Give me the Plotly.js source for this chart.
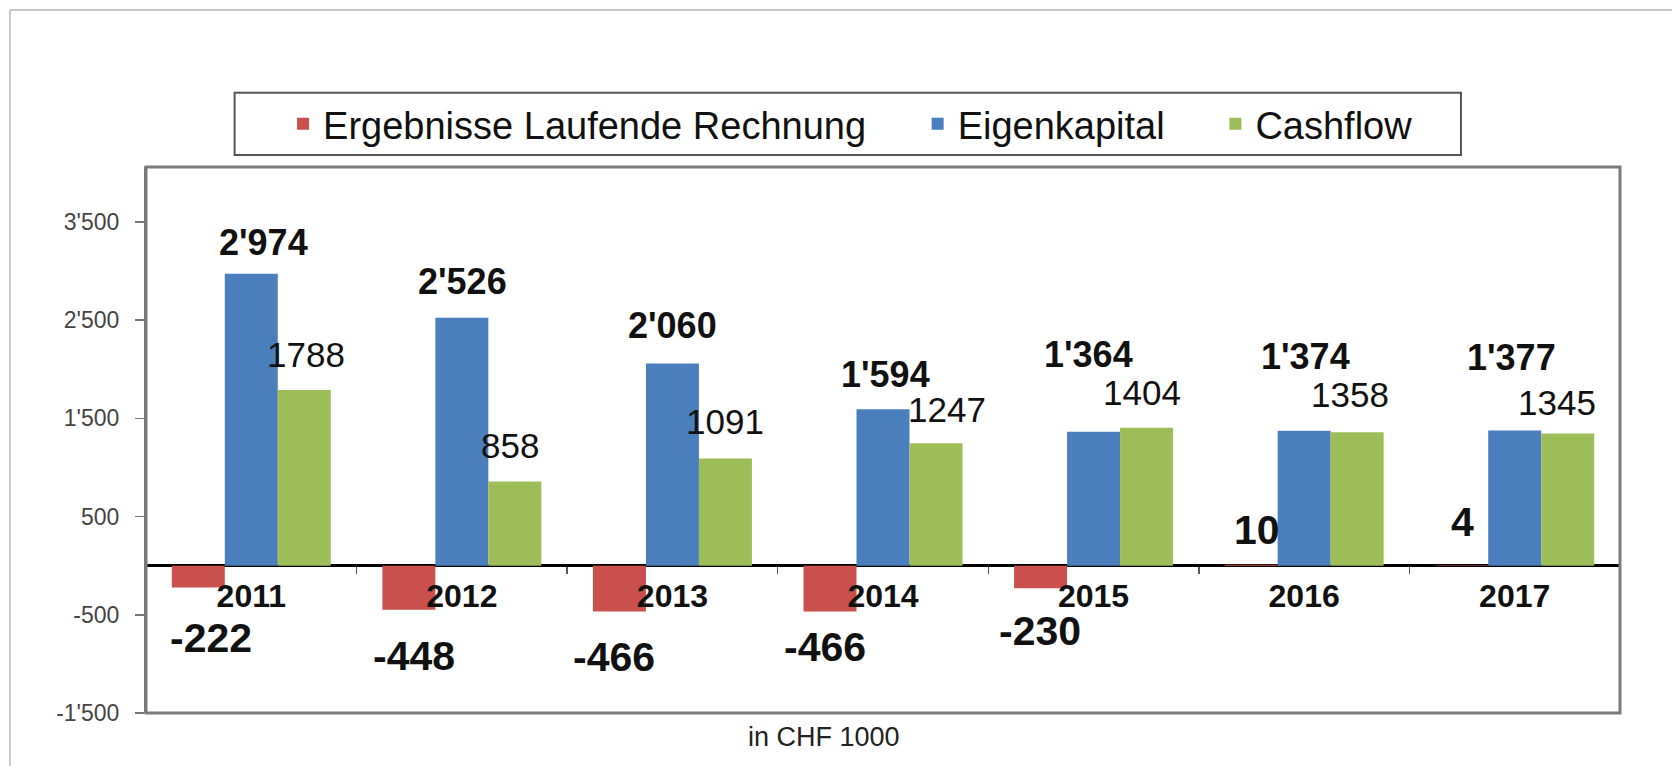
<!DOCTYPE html>
<html>
<head>
<meta charset="utf-8">
<script src="https://cdn.plot.ly/plotly-3.0.1.min.js"></script>
<style>
html,body{margin:0;padding:0;background:#fff;}
#chart{width:1672px;height:766px;}
</style>
</head>
<body>
<div id="chart"></div>
<script>
// ---- data ----
const years = ['2011', '2012', '2013', '2014', '2015', '2016', '2017'];
const ergebnisse = [-222, -448, -466, -466, -230, 10, 4];
const eigenkapital = [2974, 2526, 2060, 1594, 1364, 1374, 1377];
const cashflow = [1788, 858, 1091, 1247, 1404, 1358, 1345];
const seriesNames = ['Ergebnisse Laufende Rechnung', 'Eigenkapital', 'Cashflow'];
const yTickVals = [-1500, -500, 500, 1500, 2500, 3500];
const unitLabel = 'in CHF 1000';

// ---- label placement (pixel offsets from bar value point, category centre) ----
const redShift = [[-40, -50], [-48, -46], [-58, -46], [-58, -36], [-54, -43], [-47, 35], [-52, 43]];
const blueShift = [[12, 31], [1, 36], [0, 38], [2, 35], [-5, 77], [1, 74], [-3, 73]];
const greenShift = [[55, 36], [48, 36], [53, 37], [64, 34], [48, 35], [46, 38], [42, 31]];

const yRange = [-1500, 4060];
const FONT = 'Liberation Sans, Arial, sans-serif';

function fmtApos(v) {
  return String(v).replace(/\B(?=(\d{3})+(?!\d))/g, "'");
}

const traces = [
  {type: 'bar', name: seriesNames[0], x: years, y: ergebnisse, marker: {color: '#c9504c'}, legend: 'legend'},
  {type: 'bar', name: seriesNames[1], x: years, y: eigenkapital, marker: {color: '#4a7ebd'}, legend: 'legend2'},
  {type: 'bar', name: seriesNames[2], x: years, y: cashflow, marker: {color: '#9dbd58'}, legend: 'legend3'}
];

const annotations = [];
years.forEach((yr, i) => {
  annotations.push({x: i, y: ergebnisse[i], xref: 'x', yref: 'y', text: String(ergebnisse[i]),
    showarrow: false, xshift: redShift[i][0], yshift: redShift[i][1],
    font: {family: FONT, size: 41, weight: 'bold', color: '#111'}});
  annotations.push({x: i, y: eigenkapital[i], xref: 'x', yref: 'y', text: fmtApos(eigenkapital[i]),
    showarrow: false, xshift: blueShift[i][0], yshift: blueShift[i][1],
    font: {family: FONT, size: 36, weight: 'bold', color: '#111'}});
  annotations.push({x: i, y: cashflow[i], xref: 'x', yref: 'y', text: String(cashflow[i]),
    showarrow: false, xshift: greenShift[i][0], yshift: greenShift[i][1],
    font: {family: FONT, size: 35, color: '#111'}});
});
annotations.push({x: 0.46, y: -0.075, xref: 'paper', yref: 'paper', text: unitLabel, showarrow: false,
  font: {family: FONT, size: 27, color: '#222'}});

const legendBase = {orientation: 'h', xanchor: 'left', y: 1.0788, yanchor: 'middle',
  borderwidth: 0, bgcolor: 'rgba(0,0,0,0)',
  font: {family: FONT, size: 38, color: '#111'}};

const layout = {
  width: 1672, height: 766,
  margin: {l: 146, r: 52, t: 167, b: 53},
  paper_bgcolor: '#fff', plot_bgcolor: '#fff',
  separators: ".'",
  font: {family: FONT, color: '#222'},
  barmode: 'group', bargap: 0.245, bargroupgap: 0,
  showlegend: true,
  legend: Object.assign({}, legendBase, {x: 0.093}),
  legend2: Object.assign({}, legendBase, {x: 0.5235}),
  legend3: Object.assign({}, legendBase, {x: 0.7255}),
  xaxis: {type: 'category', range: [-0.5, years.length - 0.5], autorange: false,
    anchor: 'free', position: (0 - yRange[0]) / (yRange[1] - yRange[0]),
    showline: false, showgrid: false, zeroline: false,
    ticks: 'outside', tickson: 'boundaries', ticklen: 7, tickwidth: 1.5, tickcolor: '#555',
    ticklabelstandoff: 8,
    tickfont: {family: FONT, size: 32, weight: 'bold', color: '#111'}},
  yaxis: {range: yRange, autorange: false, tickvals: yTickVals, ticktext: yTickVals.map(fmtApos),
    showgrid: false, zeroline: true, zerolinecolor: '#000', zerolinewidth: 2.5,
    showline: true, linecolor: '#777', linewidth: 2,
    ticks: 'outside', ticklen: 9, tickcolor: '#777', tickwidth: 1.5,
    ticklabelstandoff: 11,
    tickfont: {family: FONT, size: 23, color: '#444'}},
  shapes: [
    {type: 'rect', xref: 'paper', yref: 'paper', x0: 0, x1: 1, y0: 0, y1: 1,
      line: {color: '#7a7a7a', width: 3}, layer: 'above'},
    {type: 'rect', xref: 'paper', yref: 'paper', x0: 0.0601, x1: 0.8921, y0: 1.022, y1: 1.136,
      line: {color: '#555', width: 2}, fillcolor: 'rgba(0,0,0,0)'},
    {type: 'line', xref: 'paper', yref: 'paper', x0: -0.0923, x1: 1.04, y0: 1.2875, y1: 1.2875,
      line: {color: '#c8c8c8', width: 2}},
    {type: 'line', xref: 'paper', yref: 'paper', x0: -0.0923, x1: -0.0923, y0: 1.2875, y1: -0.1,
      line: {color: '#c8c8c8', width: 2}}
  ],
  annotations: annotations
};

Plotly.newPlot('chart', traces, layout, {displayModeBar: false, staticPlot: true});
</script>
</body>
</html>
